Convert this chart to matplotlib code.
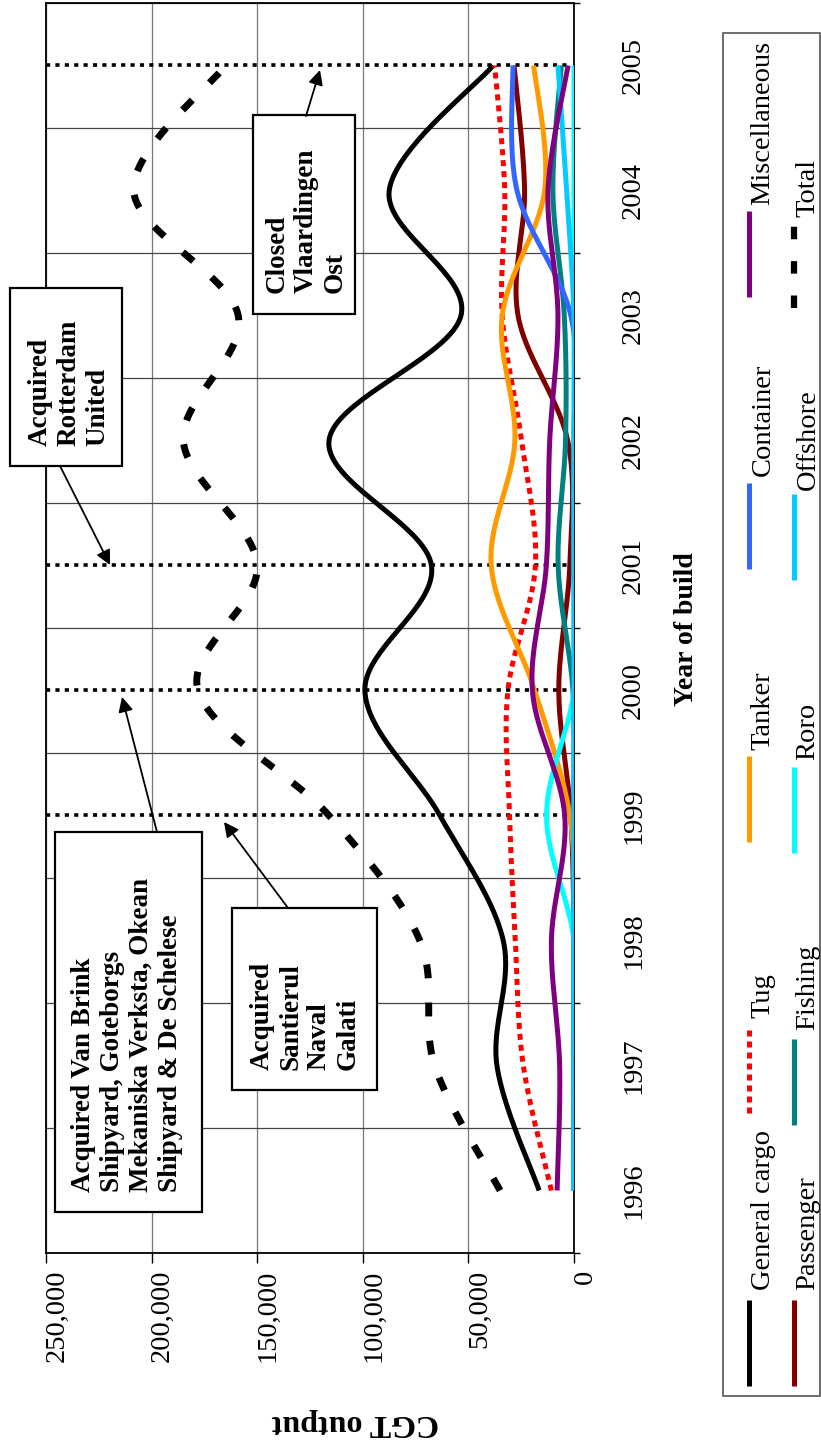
import numpy as np
import matplotlib
matplotlib.use("Agg")
import matplotlib.pyplot as plt
from matplotlib.lines import Line2D
from matplotlib.patches import Rectangle, FancyArrowPatch
from matplotlib.transforms import ScaledTranslation

plt.rcParams['font.family'] = ['Liberation Serif', 'DejaVu Serif']

# -------------------------------------------------
# Data (CGT output by year of build)
# -------------------------------------------------
years = [1996, 1997, 1998, 1999, 2000, 2001, 2002, 2003, 2004, 2005]

general_cargo = [16500, 36500, 33500, 63500, 99000, 67500, 116000, 53500, 87500, 38300]
passenger = [0, 0, 0, 1500, 7200, 2000, 3000, 26500, 23400, 28400]
tug = [10700, 24000, 27800, 30500, 31300, 18300, 24800, 34000, 32800, 37600]
fishing = [0, 0, 0, 0, 500, 7500, 4000, 4600, 10000, 6000]
tanker = [0, 0, 0, 2000, 18600, 39200, 28000, 34000, 13900, 19100]
roro = [0, 0, 0, 13000, 0, 0, 0, 0, 0, 0]
container = [0, 0, 0, 0, 0, 0, 0, 1500, 27000, 28900]
offshore = [0, 0, 0, 0, 0, 0, 0, 0, 3500, 7600]
miscellaneous = [8000, 6800, 10700, 4400, 19700, 13100, 11500, 7600, 12300, 2800]
total = [35000, 66000, 73000, 116000, 178000, 150000, 185000, 159000, 208500, 165000]

event_years = [1999, 2000, 2001, 2005]
value_ticks = [0, 50000, 100000, 150000, 200000, 250000]

W, H = 821, 1445


def fx(px):
    return px / W


def fy(py):
    return 1 - py / H


def smooth(vals, n=40):
    # Excel style smoothed line (Bezier through points, 1/6 tangents)
    p = np.column_stack([np.arange(len(vals), dtype=float), np.array(vals, dtype=float)])
    ext = np.vstack([p[0], p, p[-1]])
    t = np.linspace(0, 1, n)[:, None]
    out = []
    for i in range(len(p) - 1):
        P0, P1, P2, P3 = ext[i], ext[i + 1], ext[i + 2], ext[i + 3]
        C1 = P1 + (P2 - P0) / 6
        C2 = P2 - (P3 - P1) / 6
        seg = (1 - t) ** 3 * P1 + 3 * (1 - t) ** 2 * t * C1 + 3 * (1 - t) * t ** 2 * C2 + t ** 3 * P2
        out.append(seg if i == 0 else seg[1:])
    out = np.vstack(out)
    return out[:, 1], out[:, 0]


fig = plt.figure(figsize=(W / 100, H / 100), dpi=100)
ax = fig.add_axes([fx(46), fy(1253), (574 - 46) / W, (1253 - 3) / H])

series = [
    (general_cargo, 'General cargo', 'black', '-', 3.6),
    (passenger, 'Passenger', '#800000', '-', 3.6),
    (tug, 'Tug', '#FF0000', (0, (1.2, 1.0)), 3.6),
    (fishing, 'Fishing', '#008080', '-', 3.6),
    (tanker, 'Tanker', '#FF9900', '-', 3.6),
    (roro, 'Roro', '#00FFFF', '-', 3.6),
    (container, 'Container', '#3366FF', '-', 3.6),
    (offshore, 'Offshore', '#00CCFF', '-', 3.6),
    (miscellaneous, 'Miscellaneous', '#800080', '-', 3.6),
    (total, 'Total', 'black', (0, (2.0, 3.5)), 5.0),
]

for vals, name, col, ls, lw in series:
    xs, ys = smooth(vals)
    ax.plot(xs, ys, color=col, linestyle=ls, lw=lw, dash_capstyle='butt',
            solid_capstyle='butt', zorder=3)

# event markers
for yr in event_years:
    ax.axhline(years.index(yr), xmin=0, xmax=0.99, color='black', lw=2.6,
               linestyle=(0, (1.15, 1.45)), dash_capstyle='butt', zorder=2.5)

ax.set_xlim(250000, 0)
ax.set_ylim(-0.5, len(years) - 0.5)

ax.set_xticks(value_ticks)
ax.set_xticklabels(['{:,}'.format(v) for v in value_ticks], rotation=90, fontsize=20.5)
ax.tick_params(axis='x', direction='out', length=7, width=1, pad=5)
for lab in ax.get_xticklabels():
    lab.set_va('top')
    lab.set_ha('center')
    lab.set_transform(lab.get_transform() + ScaledTranslation(0.11, 0, fig.dpi_scale_trans))

ax.yaxis.tick_right()
ax.set_yticks(np.arange(-0.5, len(years), 1.0))
ax.set_yticklabels([])
ax.set_yticks(np.arange(len(years)), minor=True)
ax.set_yticklabels([str(y) for y in years], minor=True, fontsize=20.5, rotation=90)
ax.tick_params(axis='y', which='major', direction='out', length=4.5, width=1, right=True, left=False)
ax.tick_params(axis='y', which='minor', length=0, pad=34)
for lab in ax.get_yticklabels(minor=True):
    lab.set_va('center')
    lab.set_ha('left')

ax.grid(axis='x', which='major', color='#777777', lw=0.9, zorder=0)
ax.grid(axis='y', which='major', color='#444444', lw=0.9, zorder=0)
ax.set_axisbelow(True)
for s in ax.spines.values():
    s.set_linewidth(1.3)
    s.set_color('black')

fig.text(fx(686), fy(629), 'Year of build', rotation=90, ha='center', va='center',
         fontsize=20, fontweight='bold')
fig.text(fx(355), fy(1422), 'CGT output', rotation=180, ha='center', va='center',
         fontsize=23, fontweight='bold')

# -------------------------------------------------
# Annotation boxes
# -------------------------------------------------
boxes = [
    ((55, 832, 202, 1212), (127, 1192),
     'Acquired Van Brink\nShipyard, Goteborgs\nMekaniska Verksta, Okean\nShipyard & De Schelese',
     (157, 832), (122, 697)),
    ((232, 908, 377, 1090), (305, 1070), 'Acquired\nSantierul\nNaval\nGalati',
     (288, 908), (224, 822)),
    ((10, 288, 122, 466), (69, 446), 'Acquired\nRotterdam\nUnited',
     (60, 466), (110, 565)),
    ((253, 115, 355, 314), (306, 293), 'Closed\nVlaardingen\nOst',
     (306, 116), (320, 70)),
]
for (x0, y0, x1, y1), (tx, ty), txt, a_from, a_to in boxes:
    fig.add_artist(Rectangle((fx(x0), fy(y1)), (x1 - x0) / W, (y1 - y0) / H,
                             transform=fig.transFigure, facecolor='white',
                             edgecolor='black', lw=1.6, zorder=4))
    fig.text(fx(tx), fy(ty), txt, rotation=90, ha='center', va='bottom',
             multialignment='left', fontsize=19.5, fontweight='bold',
             linespacing=1.2, zorder=5)
    fig.add_artist(FancyArrowPatch((fx(a_from[0]), fy(a_from[1])), (fx(a_to[0]), fy(a_to[1])),
                                   transform=fig.transFigure, arrowstyle='-|>',
                                   mutation_scale=22, lw=1.3, color='black',
                                   shrinkA=0, shrinkB=0, zorder=5))

# -------------------------------------------------
# Legend (rotated)
# -------------------------------------------------
fig.add_artist(Rectangle((fx(723), fy(1396)), (820 - 723) / W, (1396 - 33) / H,
                         transform=fig.transFigure, facecolor='white',
                         edgecolor='#555555', lw=1.2, zorder=4))
leg_pos = {
    'General cargo': (748.5, 1386, 763, 1290),
    'Tug': (748.5, 1113, 763, 1018),
    'Tanker': (748.5, 842, 763, 750),
    'Container': (748.5, 569, 763, 476),
    'Miscellaneous': (748.5, 297, 763, 205),
    'Passenger': (794, 1386, 808, 1290),
    'Fishing': (794, 1125, 808, 1030),
    'Roro': (794, 853, 808, 760),
    'Offshore': (794, 580, 808, 490),
    'Total': (794, 308, 808, 217),
}
for vals, name, col, ls, lw in series:
    lx, ly, tx, ty = leg_pos[name]
    fig.add_artist(Line2D([fx(lx), fx(lx)], [fy(ly), fy(ly - 86)], transform=fig.transFigure,
                          color=col, linestyle=ls, lw=lw if name != 'Total' else 4.5,
                          dash_capstyle='butt', solid_capstyle='butt', zorder=5))
    fig.text(fx(tx), fy(ty), name, rotation=90, ha='center', va='bottom',
             fontsize=20.5, zorder=5)

fig.savefig('out.png', dpi=100)
